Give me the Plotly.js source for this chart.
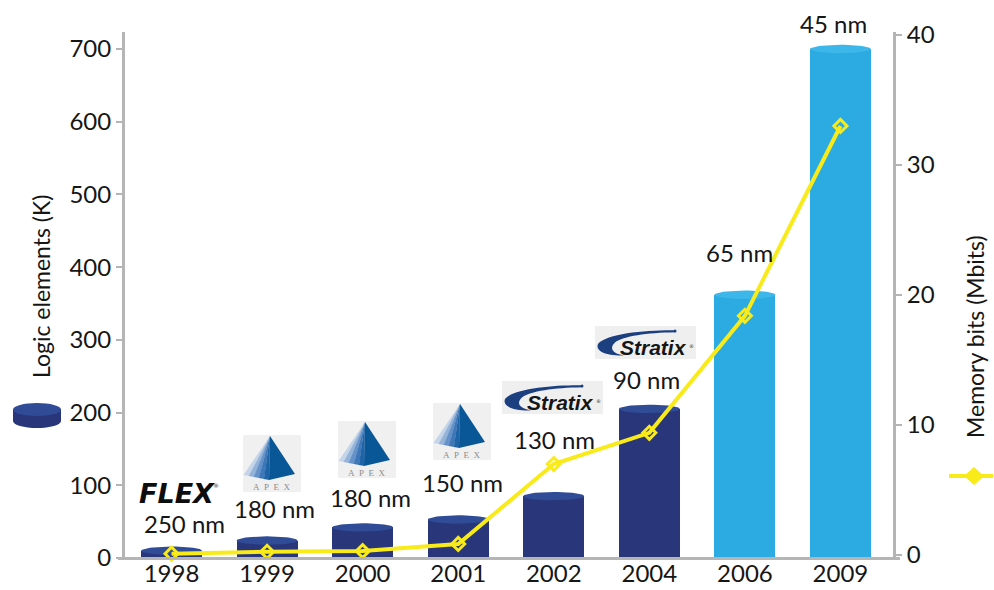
<!DOCTYPE html>
<html><head><meta charset="utf-8">
<script src="https://cdn.plot.ly/plotly-3.0.1.min.js"></script>
<style>html,body{margin:0;padding:0;background:#fff}#chart{width:994px;height:590px}</style>
</head><body><div id="chart"></div>
<script>
// ---------------- data ----------------
const years = ['1998', '1999', '2000', '2001', '2002', '2004', '2006', '2009'];
const logicElementsK = [10, 24, 42, 53, 85, 205, 362, 700];
const memoryMbits = [0.1, 0.25, 0.3, 0.85, 7.0, 9.4, 18.4, 33.0];
const processNodes = ['250 nm', '180 nm', '180 nm', '150 nm', '130 nm', '90 nm', '65 nm', '45 nm'];
const families = ['FLEX', 'APEX', 'APEX', 'APEX', 'Stratix', 'Stratix', '', ''];
const leftTicks = [0, 100, 200, 300, 400, 500, 600, 700];
const rightTicks = [0, 10, 20, 30, 40];
const leftTitle = 'Logic elements (K)';
const rightTitle = 'Memory bits (Mbits)';

// ---------------- geometry / style ----------------
const W = 994, H = 590, L = 125, R = 893, T = 32, B = 558;
const fx = px => (px - L) / (R - L);
const fy = py => (B - py) / (B - T);
const FONT = 'Lato, "Noto Sans", sans-serif';
const TXT = '#161616';
const AX = '#b5b5b5';
const DARK = '#29367a', DARK_CAP = '#304c97';
const LIGHT = '#2babe2', LIGHT_CAP = '#3db7ea';
const YEL = '#f9ea1a';
const BARW = 0.638;
const yLeftRange = [0, 723.4];
const yRightRange = [-0.23, 40.23];
const capHalfPx = 4.2;

const idx = years.map((_, i) => i);
const isNew = years.map(y => +y >= 2006);
const barColors = isNew.map(n => n ? LIGHT : DARK);
const capColors = isNew.map(n => n ? LIGHT_CAP : DARK_CAP);
const pxPerLeft = (B - T) / (yLeftRange[1] - yLeftRange[0]);
const capHalf = capHalfPx / pxPerLeft;

const traces = [];
traces.push({
  type: 'bar', x: idx, y: logicElementsK, width: BARW,
  marker: {color: barColors, line: {width: 0}},
  hoverinfo: 'skip', showlegend: false
});
// cylinder caps (ellipses built from each bar's value)
idx.forEach(i => {
  const xs = [], ys = [];
  for (let k = 0; k <= 48; k++) {
    const a = 2 * Math.PI * k / 48;
    xs.push(i + BARW / 2 * Math.cos(a));
    ys.push(logicElementsK[i] + capHalf * Math.sin(a));
  }
  traces.push({
    type: 'scatter', mode: 'lines', x: xs, y: ys, fill: 'toself',
    fillcolor: capColors[i], line: {width: 0, color: capColors[i]},
    hoverinfo: 'skip', showlegend: false
  });
});
traces.push({
  type: 'scatter', mode: 'lines+markers', x: idx, y: memoryMbits, yaxis: 'y2',
  line: {color: YEL, width: 4},
  marker: {symbol: 'diamond-open', size: 10, color: YEL, line: {color: YEL, width: 3}},
  cliponaxis: false, hoverinfo: 'skip', showlegend: false
});

// ---------------- decorations ----------------
const shapes = [];
const annotations = [];
function P(str, ox, oy) {
  return str.replace(/(-?\d+\.?\d*),(-?\d+\.?\d*)/g,
    (m, a, b) => fx(ox + +a) + ',' + fy(oy + +b));
}
function rect(x0, y0, x1, y1, color) {
  shapes.push({type: 'rect', xref: 'paper', yref: 'paper', x0: fx(x0), x1: fx(x1), y0: fy(y1), y1: fy(y0),
    fillcolor: color, line: {width: 0}, layer: 'above'});
}
function ell(x0, y0, x1, y1, color) {
  shapes.push({type: 'circle', xref: 'paper', yref: 'paper', x0: fx(x0), x1: fx(x1), y0: fy(y1), y1: fy(y0),
    fillcolor: color, line: {width: 0}, layer: 'above'});
}
function path(str, ox, oy, color) {
  shapes.push({type: 'path', xref: 'paper', yref: 'paper', path: P(str, ox, oy),
    fillcolor: color, line: {width: 0}, layer: 'above'});
}
function text(t, x, y, size, extra) {
  annotations.push(Object.assign({xref: 'paper', yref: 'paper', x: fx(x), y: fy(y), text: t,
    showarrow: false, xanchor: 'center', yanchor: 'middle',
    font: {family: FONT, size: size, color: TXT}}, extra || {}));
}

// process-node labels (pixel placements)
const nodeLabelPx = [[184, 523], [274, 508], [370, 497], [462, 482], [554, 439], [646, 379], [739, 252], [833, 23]];
processNodes.forEach((t, i) => text(t, nodeLabelPx[i][0], nodeLabelPx[i][1], 24));

// logos
const logoPx = [[143, 483], [243, 435], [338, 421], [433, 403], [502, 381], [595, 326]];
function flexLogo(bx, by) {
  text('<b><i>FLEX</i></b>', bx + 34, by + 10, 27, {font: {family: '"DejaVu Sans", sans-serif', size: 27, color: '#0d0d0d'}});
  text('®', bx + 73, by + 2, 6, {font: {family: 'DejaVu Sans', size: 6, color: '#333'}});
}
function apexLogo(bx, by) {
  rect(bx, by, bx + 58, by + 57, '#f0f0f0');
  const ax = 27, ay = 1, lx = 0.5, ly = 40, mx = 26, my = 45, rx = 52, ry = 39;
  const cols = ['#c5d5e9', '#94b3d9', '#6592c8', '#3e78b8', '#2064a8'];
  const n = cols.length;
  for (let k = 0; k < n; k++) {
    const t0 = k / n, t1 = (k + 1) / n;
    const p0x = lx + (mx - lx) * t0, p0y = ly + (my - ly) * t0;
    const p1x = lx + (mx - lx) * t1 + 0.3, p1y = ly + (my - ly) * t1;
    path(`M${ax},${ay} L${p0x.toFixed(2)},${p0y.toFixed(2)} L${p1x.toFixed(2)},${p1y.toFixed(2)} Z`, bx, by, cols[k]);
  }
  path(`M${ax},${ay} L${mx},${my} L${rx},${ry} Z`, bx, by, '#0a5797');
  text('A\u2002P\u2002E\u2002X', bx + 29, by + 52, 9, {font: {family: '"Liberation Serif", serif', size: 9, color: '#8c8c8c'}});
}
function stratixLogo(bx, by) {
  rect(bx, by, bx + 101, by + 33, '#efefef');
  path('M80,4.4 C52,4 12,7.5 3,18 C0,25.5 12,30 29,29.5 C17,27.5 14,22 20,16.5 C28,10 52,6.8 80,6.2 Z', bx, by, '#1c3f80');
  ell(bx + 78.5, by + 3.6, bx + 81.5, by + 6.6, '#1c3f80');
  text('<b><i>Stratix</i></b>', bx + 58, by + 21, 21, {font: {family: '"Liberation Sans", sans-serif', size: 21, color: '#151515'}});
  text('®', bx + 96, by + 20, 5, {font: {family: 'DejaVu Sans', size: 5, color: '#333'}});
}
families.forEach((f, i) => {
  if (f === 'FLEX') flexLogo(logoPx[i][0], logoPx[i][1]);
  else if (f === 'APEX') apexLogo(logoPx[i][0], logoPx[i][1]);
  else if (f === 'Stratix') stratixLogo(logoPx[i][0], logoPx[i][1]);
});

// axis titles and legend glyphs
text(leftTitle, 41, 287, 23, {textangle: -90});
text(rightTitle, 975, 337, 23, {textangle: -90});
rect(13, 409, 61, 421, DARK);
ell(13, 414, 61, 428, DARK);
ell(13, 403, 61, 416, DARK_CAP);
shapes.push({type: 'line', xref: 'paper', yref: 'paper', x0: fx(949), x1: fx(993), y0: fy(476), y1: fy(476),
  line: {color: YEL, width: 4}, layer: 'above'});
path('M964,476 L974,467 L984,476 L974,485 Z', 0, 0, YEL);
// x axis line extends slightly past both vertical axes
shapes.push({type: 'line', xref: 'paper', yref: 'paper', x0: fx(118), x1: fx(900), y0: fy(558.5), y1: fy(558.5),
  line: {color: AX, width: 3}, layer: 'above'});

const layout = {
  width: W, height: H,
  margin: {l: L, r: W - R, t: T, b: H - B, pad: 0},
  paper_bgcolor: '#fff', plot_bgcolor: '#fff',
  showlegend: false,
  bargap: 0,
  xaxis: {
    type: 'linear', range: [-0.487, 7.55], tickmode: 'array', tickvals: idx, ticktext: years,
    showline: false, ticks: '', showgrid: false, zeroline: false, ticklabelstandoff: -1,
    tickfont: {family: FONT, size: 24, color: TXT}, fixedrange: true
  },
  yaxis: {
    range: yLeftRange, tickmode: 'array', tickvals: leftTicks,
    showline: true, linecolor: AX, linewidth: 3, ticks: 'outside', ticklen: 6, tickwidth: 2, tickcolor: AX,
    showgrid: false, zeroline: false, tickfont: {family: FONT, size: 24, color: TXT}, fixedrange: true
  },
  yaxis2: {
    overlaying: 'y', side: 'right', range: yRightRange, tickmode: 'array', tickvals: rightTicks,
    showline: true, linecolor: AX, linewidth: 3, ticks: 'outside', ticklen: 6, tickwidth: 2, tickcolor: AX,
    showgrid: false, zeroline: false, tickfont: {family: FONT, size: 24, color: TXT}, fixedrange: true
  },
  shapes: shapes,
  annotations: annotations
};
Plotly.newPlot('chart', traces, layout, {staticPlot: true, displayModeBar: false});
</script>
</body></html>
